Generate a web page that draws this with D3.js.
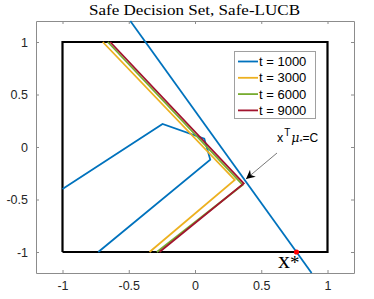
<!DOCTYPE html>
<html>
<head>
<meta charset="utf-8">
<script src="https://cdn.jsdelivr.net/npm/d3@7"></script>
<style>
body { margin: 0; background: #fff; }
svg { display: block; }
</style>
</head>
<body>
<script>
const width = 374
const height = 299
const margin = {left: 36, right: 20, top: 21, bottom: 26}

const xTicks = [-1, -0.5, 0, 0.5, 1]
const yTicks = [-1, -0.5, 0, 0.5, 1]
const tickLabels = ['-1', '-0.5', '0', '0.5', '1']

const seriesNames = ['t = 1000', 't = 3000', 't = 6000', 't = 9000']
const seriesColors = ['#0072BD', '#EDB120', '#77AC30', '#A2142F']
const t1000 = [[-1, -0.4], [-0.245, 0.22], [0.07, 0.08], [0.115, -0.12], [-0.73, -1]]
const t3000 = [[-0.696, 1], [0.30, -0.314], [-0.343, -1]]
const t6000 = [[-0.658, 1], [0.36, -0.36], [-0.288, -1]]
const t9000 = [[-0.64, 1], [0.368, -0.346], [-0.268, -1]]
const constraintLine = [[-0.488, 1.2], [0.88, -1.2]]
const boxCorners = [[-1, -1], [-1, 1], [1, 1], [1, -1], [-1, -1]]
const xStar = [0.766, -1]

const series = [t1000, t3000, t6000, t9000]

const svg = d3.select('body').append('svg')
    .attr('width', width)
    .attr('height', height)

const x = d3.scaleLinear().domain([-1.2, 1.2]).range([margin.left, width - margin.right])
const y = d3.scaleLinear().domain([-1.2, 1.2]).range([height - margin.bottom, margin.top])

const axisColor = '#8c8c8c'
const textColor = '#262626'

// axes with ticks inward on all four sides
const axes = [
    {g: d3.axisBottom(x), t: `translate(0,${y(-1.2)})`, ticks: xTicks, labels: true},
    {g: d3.axisTop(x), t: `translate(0,${y(1.2)})`, ticks: xTicks, labels: false},
    {g: d3.axisLeft(y), t: `translate(${x(-1.2)},0)`, ticks: yTicks, labels: true},
    {g: d3.axisRight(y), t: `translate(${x(1.2)},0)`, ticks: yTicks, labels: false}
]
axes.forEach(a => {
    let gen = a.g.tickValues(a.ticks)
        .tickSizeInner(-3)
        .tickSizeOuter(0)
        .tickPadding(a.labels ? 8 : 0)
        .tickFormat((d, i) => a.labels ? tickLabels[i] : '')
    let g = svg.append('g').attr('transform', a.t).call(gen)
    g.select('.domain').attr('stroke', axisColor).attr('stroke-width', 1)
    g.selectAll('.tick line').attr('stroke', axisColor)
    g.selectAll('.tick text')
        .attr('fill', textColor)
        .style('font-family', 'Liberation Sans, Arial, sans-serif')
        .style('font-size', '12.5px')
})

const line = d3.line().x(d => x(d[0])).y(d => y(d[1]))

svg.append('path')
    .attr('d', line(boxCorners))
    .attr('fill', 'none')
    .attr('stroke', '#000')
    .attr('stroke-width', 2.2)

svg.append('path')
    .attr('d', line(constraintLine))
    .attr('fill', 'none')
    .attr('stroke', seriesColors[0])
    .attr('stroke-width', 1.8)

series.forEach((s, i) => {
    svg.append('path')
        .attr('d', line(s))
        .attr('fill', 'none')
        .attr('stroke', seriesColors[i])
        .attr('stroke-width', 1.8)
})

svg.append('circle')
    .attr('cx', x(xStar[0]))
    .attr('cy', y(xStar[1]))
    .attr('r', 2.6)
    .attr('fill', '#ff0000')

// title
svg.append('text')
    .attr('x', 89)
    .attr('y', 15)
    .attr('textLength', 211)
    .attr('lengthAdjust', 'spacingAndGlyphs')
    .style('font-family', 'Liberation Serif, Times New Roman, serif')
    .style('font-size', '15px')
    .attr('fill', '#000')
    .text('Safe Decision Set, Safe-LUCB')

// legend
const legend = svg.append('g')
legend.append('rect')
    .attr('x', 234.5).attr('y', 51.5)
    .attr('width', 81).attr('height', 67)
    .attr('fill', '#fff')
    .attr('stroke', '#a0a0a0')
    .attr('stroke-width', 1)
seriesNames.forEach((name, i) => {
    let ly = 61.5 + i * 16.3
    legend.append('line')
        .attr('x1', 238).attr('x2', 258)
        .attr('y1', ly).attr('y2', ly)
        .attr('stroke', seriesColors[i])
        .attr('stroke-width', 1.8)
    legend.append('text')
        .attr('x', 259).attr('y', ly + 4.5)
        .style('font-family', 'Liberation Sans, Arial, sans-serif')
        .style('font-size', '13px')
        .attr('fill', '#000')
        .text(name)
})

// annotation with arrow
svg.append('defs').append('marker')
    .attr('id', 'head')
    .attr('viewBox', '0 0 10 10')
    .attr('refX', 10).attr('refY', 5)
    .attr('markerWidth', 9).attr('markerHeight', 9)
    .attr('markerUnits', 'userSpaceOnUse')
    .attr('orient', 'auto')
    .append('path')
    .attr('d', 'M0,0 L10,5 L0,10 L3,5 Z')
    .attr('fill', '#000')

svg.append('line')
    .attr('x1', 277).attr('y1', 153)
    .attr('x2', 246).attr('y2', 179)
    .attr('stroke', '#555')
    .attr('stroke-width', 0.8)
    .attr('marker-end', 'url(#head)')

const ann = svg.append('text')
    .attr('x', 277).attr('y', 142)
    .style('font-family', 'Liberation Sans, Arial, sans-serif')
    .style('font-size', '12.5px')
    .attr('fill', '#000')
ann.append('tspan').text('x')
ann.append('tspan').attr('dy', -6).attr('dx', 1).style('font-size', '10px').text('T')
ann.append('tspan').attr('dy', 6).attr('dx', 1)
    .style('font-family', 'DejaVu Serif, serif').style('font-style', 'italic').text('μ')
ann.append('tspan').attr('dy', 2).style('font-size', '8px').text('*')
ann.append('tspan').attr('dy', -2).style('font-size', '12px').text('=C')

const xs = svg.append('text')
    .attr('x', 278).attr('y', 268)
    .style('font-family', 'Liberation Serif, Times New Roman, serif')
    .style('font-size', '24px')
    .attr('fill', '#000')
xs.append('tspan').text('x')
xs.append('tspan').attr('dy', 1).style('font-size', '19px').text('*')
</script>
</body>
</html>
